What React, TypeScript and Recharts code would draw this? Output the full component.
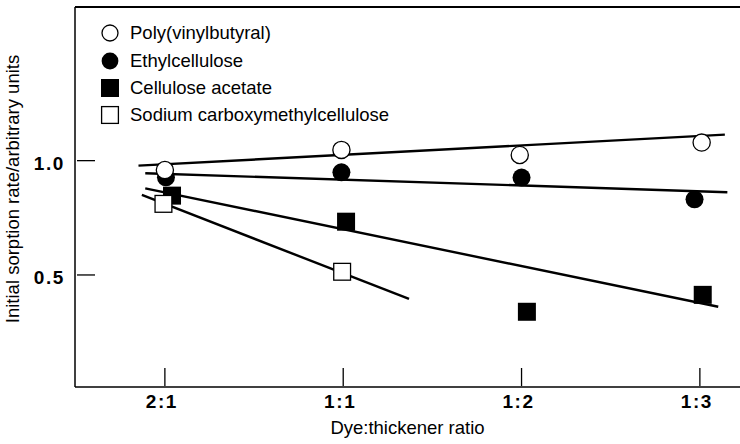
import {
  ComposedChart,
  Legend,
  Line,
  ReferenceLine,
  Scatter,
  XAxis,
  YAxis,
} from "recharts";

const ratioLabels = ["2:1", "1:1", "1:2", "1:3"];
const ratioTicks = [0, 1, 2, 3];
const rateTicks = [0.5, 1.0];

// measured points (x slightly off the category in a few places, as in the figure)
const pvbX = [0, 0.99, 1.99, 3.01];
const pvbY = [0.959, 1.047, 1.025, 1.079];
const ethylX = [0.006, 0.99, 2.0, 2.97];
const ethylY = [0.927, 0.949, 0.926, 0.831];
const acetateX = [0.04, 1.016, 2.03, 3.016];
const acetateY = [0.847, 0.733, 0.339, 0.413];
const cmcX = [-0.008, 0.994];
const cmcY = [0.811, 0.514];

// fitted straight lines, end points
const pvbFitX = [-0.148, 3.14];
const pvbFitY = [0.978, 1.114];
const ethylFitX = [-0.11, 3.154];
const ethylFitY = [0.945, 0.862];
const acetateFitX = [-0.11, 3.103];
const acetateFitY = [0.879, 0.361];
const cmcFitX = [-0.129, 1.369];
const cmcFitY = [0.85, 0.395];

const FONT = '"Liberation Sans", Arial, Helvetica, sans-serif';
const X_DOMAIN: [number, number] = [-0.504, 3.225];
const Y_DOMAIN: [number, number] = [0.01, 1.672];

const toPoints = (xs: number[], ys: number[]) =>
  xs.map((x, i) => ({ x, y: ys[i] }));

type Marker = "openCircle" | "filledCircle" | "filledSquare" | "openSquare";

const drawMarker = (kind: Marker, cx: number, cy: number, small = false) => {
  const r = small ? 8.4 : 9;
  if (kind === "openCircle")
    return <circle cx={cx} cy={cy} r={r - 0.4} fill="#fff" stroke="#000" strokeWidth={1.3} />;
  if (kind === "filledCircle") return <circle cx={cx} cy={cy} r={r} fill="#000" />;
  if (kind === "filledSquare")
    return <rect x={cx - 9} y={cy - 9} width={18} height={18} fill="#000" />;
  return (
    <rect
      x={cx - 8.4}
      y={cy - 8.4}
      width={16.8}
      height={16.8}
      fill="#fff"
      stroke="#000"
      strokeWidth={1.3}
    />
  );
};

const series: { name: string; marker: Marker }[] = [
  { name: "Poly(vinylbutyral)", marker: "openCircle" },
  { name: "Ethylcellulose", marker: "filledCircle" },
  { name: "Cellulose acetate", marker: "filledSquare" },
  { name: "Sodium carboxymethylcellulose", marker: "openSquare" },
];

const YTick = ({ x, y, payload }: any) => (
  <g>
    <line x1={x + 2} x2={x + 20} y1={y} y2={y} stroke="#000" strokeWidth={1.3} />
    <text
      x={x - 10}
      y={y + 9}
      textAnchor="end"
      fontFamily={FONT}
      fontSize={19}
      fontWeight="bold"
      letterSpacing={1.6}
      fill="#000"
    >
      {Number(payload.value).toFixed(1)}
    </text>
  </g>
);

const XTick = ({ x, y, payload }: any) => (
  <g>
    <line x1={x} x2={x} y1={y - 19} y2={y - 1} stroke="#000" strokeWidth={1.3} />
    <text
      x={x - 3}
      y={y + 21}
      textAnchor="middle"
      fontFamily={FONT}
      fontSize={19}
      fontWeight="bold"
      letterSpacing={1.6}
      fill="#000"
    >
      {ratioLabels[payload.value]}
    </text>
  </g>
);

const renderLegend = () => (
  <div style={{ fontFamily: FONT, fontSize: 18.5, color: "#000" }}>
    {series.map((s) => (
      <div
        key={s.name}
        style={{ display: "flex", alignItems: "center", height: 27.3, whiteSpace: "nowrap" }}
      >
        <svg width={20} height={20} style={{ marginRight: 10, flex: "none" }}>
          {drawMarker(s.marker, 10, 10, true)}
        </svg>
        <span>{s.name}</span>
      </div>
    ))}
  </div>
);

const fitLine = (xs: number[], ys: number[], key: string) => (
  <Line
    key={key}
    data={toPoints(xs, ys)}
    dataKey="y"
    type="linear"
    stroke="#000"
    strokeWidth={2.4}
    dot={false}
    activeDot={false}
    legendType="none"
    isAnimationActive={false}
  />
);

export default function App() {
  return (
    <div style={{ position: "absolute", left: 0, top: 0, width: 740, height: 444, background: "#fff" }}>
      <ComposedChart
        width={740}
        height={444}
        margin={{ top: 7, right: 0, bottom: 0, left: 0 }}
      >
        <XAxis
          type="number"
          dataKey="x"
          domain={X_DOMAIN}
          allowDataOverflow
          ticks={ratioTicks}
          interval={0}
          height={57}
          tickSize={0}
          tickMargin={0}
          tickLine={false}
          tick={<XTick />}
          axisLine={{ stroke: "#000", strokeWidth: 1.5 }}
          label={(props: any) => {
            const vb = props.viewBox;
            return (
              <text
                x={vb.x + vb.width / 2}
                y={vb.y + 46.5}
                textAnchor="middle"
                fontFamily={FONT}
                fontSize={18.5}
                fill="#000"
              >
                Dye:thickener ratio
              </text>
            );
          }}
        />
        <YAxis
          type="number"
          dataKey="y"
          domain={Y_DOMAIN}
          allowDataOverflow
          ticks={rateTicks}
          interval={0}
          width={75}
          tickSize={0}
          tickMargin={0}
          tickLine={false}
          tick={<YTick />}
          axisLine={{ stroke: "#000", strokeWidth: 1.5 }}
          label={(props: any) => {
            const vb = props.viewBox;
            const cx = vb.x + 19.4;
            const cy = vb.y + vb.height / 2 - 8;
            return (
              <text
                x={cx}
                y={cy}
                transform={`rotate(-90 ${cx} ${cy})`}
                textAnchor="middle"
                fontFamily={FONT}
                fontSize={18.5}
                fill="#000"
              >
                Initial sorption rate/arbitrary units
              </text>
            );
          }}
        />
        <ReferenceLine y={Y_DOMAIN[1]} stroke="#000" strokeWidth={2} ifOverflow="visible" />
        {fitLine(pvbFitX, pvbFitY, "pvbFit")}
        {fitLine(ethylFitX, ethylFitY, "ethylFit")}
        {fitLine(acetateFitX, acetateFitY, "acetateFit")}
        {fitLine(cmcFitX, cmcFitY, "cmcFit")}
        <Scatter
          name="Ethylcellulose"
          data={toPoints(ethylX, ethylY)}
          shape={(p: any) => drawMarker("filledCircle", p.cx, p.cy)}
          isAnimationActive={false}
        />
        <Scatter
          name="Cellulose acetate"
          data={toPoints(acetateX, acetateY)}
          shape={(p: any) => drawMarker("filledSquare", p.cx, p.cy)}
          isAnimationActive={false}
        />
        <Scatter
          name="Poly(vinylbutyral)"
          data={toPoints(pvbX, pvbY)}
          shape={(p: any) => drawMarker("openCircle", p.cx, p.cy)}
          isAnimationActive={false}
        />
        <Scatter
          name="Sodium carboxymethylcellulose"
          data={toPoints(cmcX, cmcY)}
          shape={(p: any) => drawMarker("openSquare", p.cx, p.cy)}
          isAnimationActive={false}
        />
        <Legend
          layout="vertical"
          align="center"
          verticalAlign="middle"
          content={renderLegend}
          wrapperStyle={{ left: 100, top: 19.7, width: "auto", height: "auto" }}
        />
      </ComposedChart>
    </div>
  );
}
